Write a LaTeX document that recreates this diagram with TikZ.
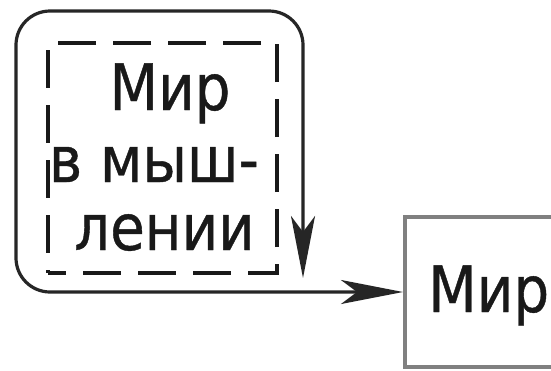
\documentclass[tikz,border=0pt]{standalone}
\usepackage{fontspec}
\newfontfamily\lab{DejaVu Sans}[FakeStretch=0.88,FakeBold=0.6]
\usetikzlibrary{arrows.meta}
\begin{document}
\begin{tikzpicture}[x=1pt,y=-1pt,
  lbl/.style={font=\lab\fontsize{64}{70}\selectfont, inner sep=0pt, text=black!90},
  loopline/.style={draw=black!85, line width=3.2pt, rounded corners=34pt},
  dashbox/.style={draw=black!90, line width=3.4pt, dash pattern=on 38pt off 17pt, dash phase=20pt},
  worldbox/.style={draw=black!50, line width=4pt, fill=white},
  head/.tip={Stealth[length=62pt,width=24pt,inset=16pt]}
]
\useasboundingbox (0,0) rectangle (551,370);
\clip (0,0) rectangle (551,370);
\fill[white] (0,0) rectangle (551,370);
% inner dashed box
\node[dashbox, minimum width=229pt, minimum height=230pt] (inner) at (162.5,158) {};
\node[lbl, anchor=base] (t1) at (170,110) {Мир};
\node[lbl, anchor=base] (t2) at (154,182) {в мыш-};
\node[lbl, anchor=base] (t3) at (164.5,250) {лении};
% world box
\node[worldbox, minimum width=220pt, minimum height=150pt, anchor=north west] (mir) at (403,215) {};
\node[lbl, anchor=base west] (mirtext) at (428,312) {Мир};
% loop
\coordinate (bl) at (16,292);
\coordinate (tl) at (16,11);
\coordinate (tr) at (303,11);
\coordinate (vt) at (303,278);
\draw[loopline, head-head]
  (mir.west |- bl) -- (bl) -- (tl) -- (tr) -- (vt);
\end{tikzpicture}
\end{document}
